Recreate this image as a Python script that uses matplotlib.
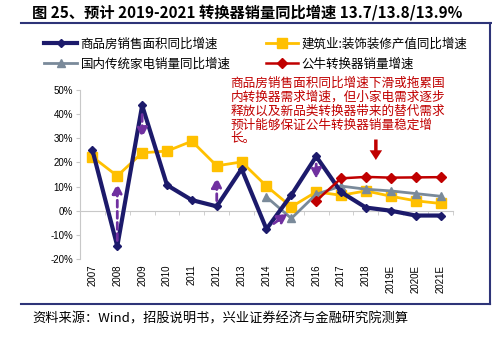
import numpy as np
import matplotlib
matplotlib.use('Agg')
import matplotlib.pyplot as plt
from matplotlib.lines import Line2D

plt.rcParams['font.family'] = ['Noto Sans CJK SC', 'DejaVu Sans']

years = ['2007', '2008', '2009', '2010', '2011', '2012', '2013', '2014',
         '2015', '2016', '2017', '2018', '2019E', '2020E', '2021E']
house = [25.1, -14.7, 43.6, 10.6, 4.4, 1.8, 17.3, -7.6, 6.5, 22.5, 7.7, 1.3, 0.0, -2.0, -2.0]
decor = [22.3, 14.4, 24.0, 24.7, 28.8, 18.6, 20.2, 10.2, 1.6, 7.8, 6.4, 8.2, 6.0, 4.1, 3.0]
appliance = [np.nan] * 7 + [5.7, -3.2, 6.8, 10.2, 8.9, 8.2, 7.1, 6.0]
bull = [np.nan] * 9 + [4.1, 13.4, 14.0, 13.7, 13.8, 13.9]

# purple dashed arrows (x0, y0, x1, y1)
arrows = [(1, -13.5, 1, 12.5), (2, 41, 2, 29), (5, 3, 5, 15),
          (7.2, -6, 7.95, -0.5), (9, 20.5, 9, 12)]

note = ("商品房销售面积同比增速下滑或拖累国\n"
        "内转换器需求增速，但小家电需求逐步\n"
        "释放以及新品类转换器带来的替代需求\n"
        "预计能够保证公牛转换器销量稳定增\n"
        "长。")

navy = '#1C1A6B'
yellow = '#FFC000'
gray = '#7A8A9A'
red = '#C00000'
purple = '#7030A0'

fig = plt.figure(figsize=(4.92, 3.39), dpi=100)
ax = fig.add_axes([0.1626, 0.236, 0.758, 0.4985])
x = np.arange(len(years))

l1, = ax.plot(x, house, color=navy, lw=3, marker='D', ms=4.5, label='商品房销售面积同比增速', zorder=4)
l2, = ax.plot(x, decor, color=yellow, lw=2, marker='s', ms=7, label='建筑业:装饰装修产值同比增速', zorder=3)
l3, = ax.plot(x, appliance, color=gray, lw=2, marker='^', ms=6, label='国内传统家电销量同比增速', zorder=3)
l4, = ax.plot(x, bull, color=red, lw=1.8, marker='D', ms=5, label='公牛转换器销量增速', zorder=5)

for x0, y0, x1, y1 in arrows:
    ax.annotate('', xy=(x1, y1), xytext=(x0, y0),
                arrowprops=dict(arrowstyle='-|>,head_length=0.6,head_width=0.3',
                                linestyle=(0, (2.5, 1.5)), color=purple, lw=2), zorder=6)

ax.annotate('', xy=(11.4, 21), xytext=(11.4, 29.5),
            arrowprops=dict(width=2.5, headwidth=9, headlength=7, color=red, lw=0))

fig.text(0.468, 0.772, note, color=red, fontsize=9.1, va='top', ha='left', linespacing=1.08)

ax.set_xlim(-0.5, 14.5)
ax.set_ylim(-20, 50)
ax.set_yticks(np.arange(-20, 51, 10))
ax.set_yticklabels([f'{v}%' for v in range(-20, 51, 10)], family='Liberation Sans', fontsize=7)
for s in ['top', 'right']:
    ax.spines[s].set_visible(False)
ax.spines['left'].set_color('#C8C8C8')
ax.spines['bottom'].set_position(('data', 0))
ax.spines['bottom'].set_color('#C8C8C8')
ax.set_xticks([])
ax.set_xticks(np.arange(-0.5, 15, 1), minor=True)
ax.tick_params(axis='x', which='minor', length=3, color='#C8C8C8')
ax.tick_params(axis='y', length=3, color='#C8C8C8', pad=2)

sec = ax.secondary_xaxis('bottom')
sec.set_xticks(x, labels=years, rotation=90, family='Liberation Sans', fontsize=7)
sec.spines['bottom'].set_visible(False)
sec.tick_params(length=0, pad=4)

fig.legend(handles=[l1, l3, l2, l4], ncol=2, loc='upper left', bbox_to_anchor=(0.09, 0.89),
           frameon=False, fontsize=9, handlelength=2.6, handletextpad=0.3,
           columnspacing=2.8, labelspacing=0.6, borderaxespad=0, borderpad=0)

fig.text(0.065, 0.962, '图 25、预计 2019-2021 转换器销量同比增速 13.7/13.8/13.9%',
         fontsize=11, fontweight='bold', va='center', ha='left')
fig.text(0.065, 0.058, '资料来源：Wind，招股说明书，兴业证券经济与金融研究院测算',
         fontsize=9.5, va='center', ha='left')

frame = '#2E3478'
fig.add_artist(Line2D([0.043, 1], [0.932, 0.932], color=frame, lw=1.5))
fig.add_artist(Line2D([0.043, 0.996], [0.103, 0.103], color=frame, lw=1.5))
fig.add_artist(Line2D([0.996, 0.996], [0.103, 0.932], color=frame, lw=1.5))

fig.savefig('out.png', dpi=100)
